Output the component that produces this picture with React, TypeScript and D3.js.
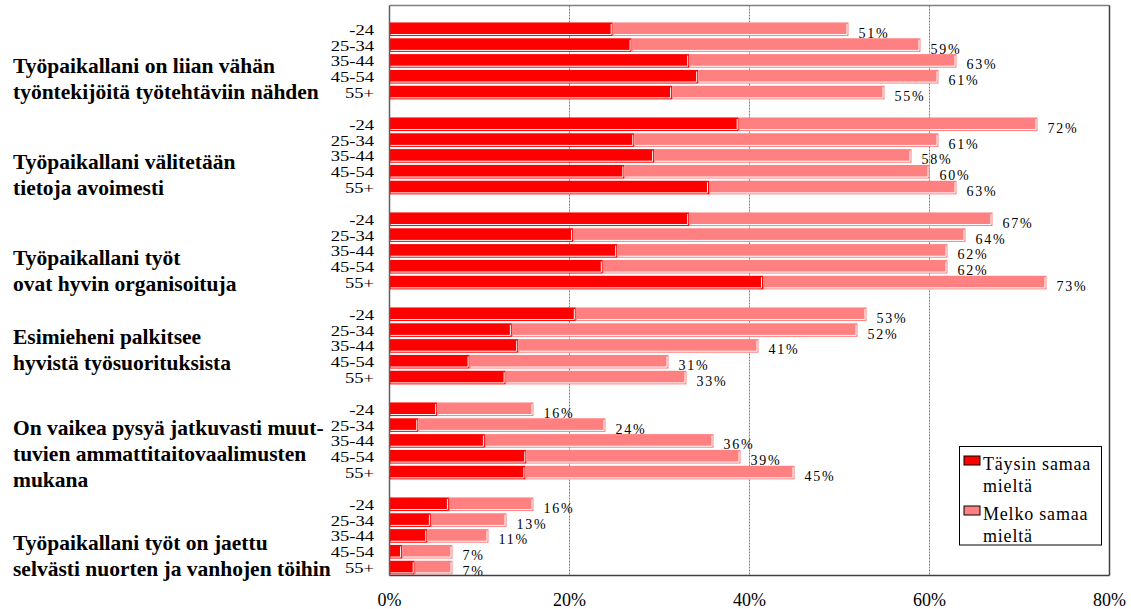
import React from "react";
import * as d3 from "d3";

const categories: string[][] = [
  ["Työpaikallani on liian vähän", "työntekijöitä työtehtäviin nähden"],
  ["Työpaikallani välitetään", "tietoja avoimesti"],
  ["Työpaikallani työt", "ovat hyvin organisoituja"],
  ["Esimieheni palkitsee", "hyvistä työsuorituksista"],
  ["On vaikea pysyä jatkuvasti muut-", "tuvien ammattitaitovaalimusten", "mukana"],
  ["Työpaikallani työt on jaettu", "selvästi nuorten ja vanhojen töihin"],
];
const ageGroups = ["-24", "25-34", "35-44", "45-54", "55+"];
// Täysin samaa mieltä
const fullyAgree: number[][] = [
  [24.8, 26.9, 33.3, 34.3, 31.4],
  [38.8, 27.2, 29.4, 26.1, 35.5],
  [33.3, 20.4, 25.3, 23.7, 41.5],
  [20.7, 13.6, 14.3, 8.9, 12.9],
  [5.3, 3.2, 10.6, 15.2, 15.1],
  [6.6, 4.6, 4.2, 1.4, 2.8],
];
// Total (Täysin + Melko)
const totals: number[][] = [
  [51, 59, 63, 61, 55],
  [72, 61, 58, 60, 63],
  [67, 64, 62, 62, 73],
  [53, 52, 41, 31, 33],
  [16, 24, 36, 39, 45],
  [16, 13, 11, 7, 7],
];
const xTicks = [0, 20, 40, 60, 80];
const seriesNames = [["Täysin samaa", "mieltä"], ["Melko samaa", "mieltä"]];
const colors = ["#FF0000", "#FF8080"];
// first-line baseline offset of each category label from the group centre
const labelDy = [12, 13, 14, -2, -6, 14];

const W = 1131;
const H = 609;
const left = 389.5;
const right = 1109.5;
const top = 5.5;
const bottom = 575.5;
const serif = "Liberation Serif";

export default function App() {
  const x = d3.scaleLinear().domain([0, 80]).range([left, right]);
  const slots = d3.range(categories.length * 6);
  const y = d3.scaleBand<number>().domain(slots).range([top, bottom]).paddingInner(0.14).paddingOuter(0.07);

  const rows: { g: number; a: number; slot: number; full: number; total: number }[] = [];
  categories.forEach((_, g) => {
    ageGroups.forEach((_, a) => {
      rows.push({ g, a, slot: g * 6 + 1 + a, full: fullyAgree[g][a], total: totals[g][a] });
    });
  });

  const bar = (x0: number, x1: number, y0: number, h: number, fill: string, key: string) => {
    const y1 = y0 + h;
    return (
      <g key={key}>
        <rect x={x0} y={y0} width={x1 - x0} height={h} fill={fill} />
        <path
          d={`M${x0 + 1},${y1 - 1.5}H${x1 - 1.5}V${y0 + 1.5}`}
          fill="none"
          stroke="#FFFFFF"
          strokeWidth={1}
        />
      </g>
    );
  };

  const ts = { fontFamily: serif };

  return (
    <svg width={W} height={H} style={{ position: "absolute", left: 0, top: 0, background: "#fff" }}>
      {xTicks.slice(1, -1).map((t) => (
        <line key={t} x1={x(t)} x2={x(t)} y1={top} y2={bottom} stroke="#808080" strokeWidth={1} strokeDasharray="2,1" />
      ))}
      <line x1={left} x2={right} y1={top} y2={top} stroke="#808080" strokeWidth={1.5} />
      <line x1={right} x2={right} y1={top} y2={bottom} stroke="#404040" strokeWidth={1.5} />
      {rows.map((r) => {
        const y0 = y(r.slot)!;
        const h = y.bandwidth();
        const cy = y0 + h / 2;
        return (
          <g key={`r${r.g}-${r.a}`}>
            {bar(x(0), x(r.full), y0, h, colors[0], "f")}
            {bar(x(r.full), x(r.total), y0, h, colors[1], "m")}
            <text x={x(r.total) + 10} y={cy + 8.5} style={ts} fontSize={14} letterSpacing={1.8} fill="#000">
              {`${r.total}%`}
            </text>
            <text
              transform={`translate(374,${cy + 5.5}) scale(1.2,1)`}
              textAnchor="end"
              style={ts}
              fontSize={15.5}
              fill="#000"
            >
              {ageGroups[r.a]}
            </text>
          </g>
        );
      })}
      <line x1={left} x2={left} y1={top} y2={bottom} stroke="#606060" strokeWidth={1.5} />
      <line x1={left} x2={right} y1={bottom} y2={bottom} stroke="#404040" strokeWidth={1.5} />
      {categories.map((lines, g) => {
        const c = (y(g * 6 + 1)! + y(g * 6 + 5)! + y.bandwidth()) / 2;
        return (
          <text key={`c${g}`} style={ts} fontSize={21.5} fontWeight="bold" fill="#000">
            {lines.map((l, i) => (
              <tspan key={i} x={13} y={c + labelDy[g] + i * 26}>
                {l}
              </tspan>
            ))}
          </text>
        );
      })}
      {xTicks.map((t) => (
        <text key={`t${t}`} x={x(t)} y={605.5} textAnchor="middle" style={ts} fontSize={18} fill="#000">
          {`${t}%`}
        </text>
      ))}
      <rect x={959.5} y={446.5} width={142} height={98.5} fill="#fff" stroke="#000" strokeWidth={1} />
      {seriesNames.map((lines, i) => (
        <g key={`l${i}`}>
          <rect x={964} y={456 + i * 50} width={16} height={9} fill={colors[i]} stroke="#000" strokeWidth={1} />
          <text style={ts} fontSize={18} letterSpacing={0.8} fill="#000">
            {lines.map((l, j) => (
              <tspan key={j} x={983} y={470 + i * 50 + j * 21.5}>
                {l}
              </tspan>
            ))}
          </text>
        </g>
      ))}
    </svg>
  );
}
